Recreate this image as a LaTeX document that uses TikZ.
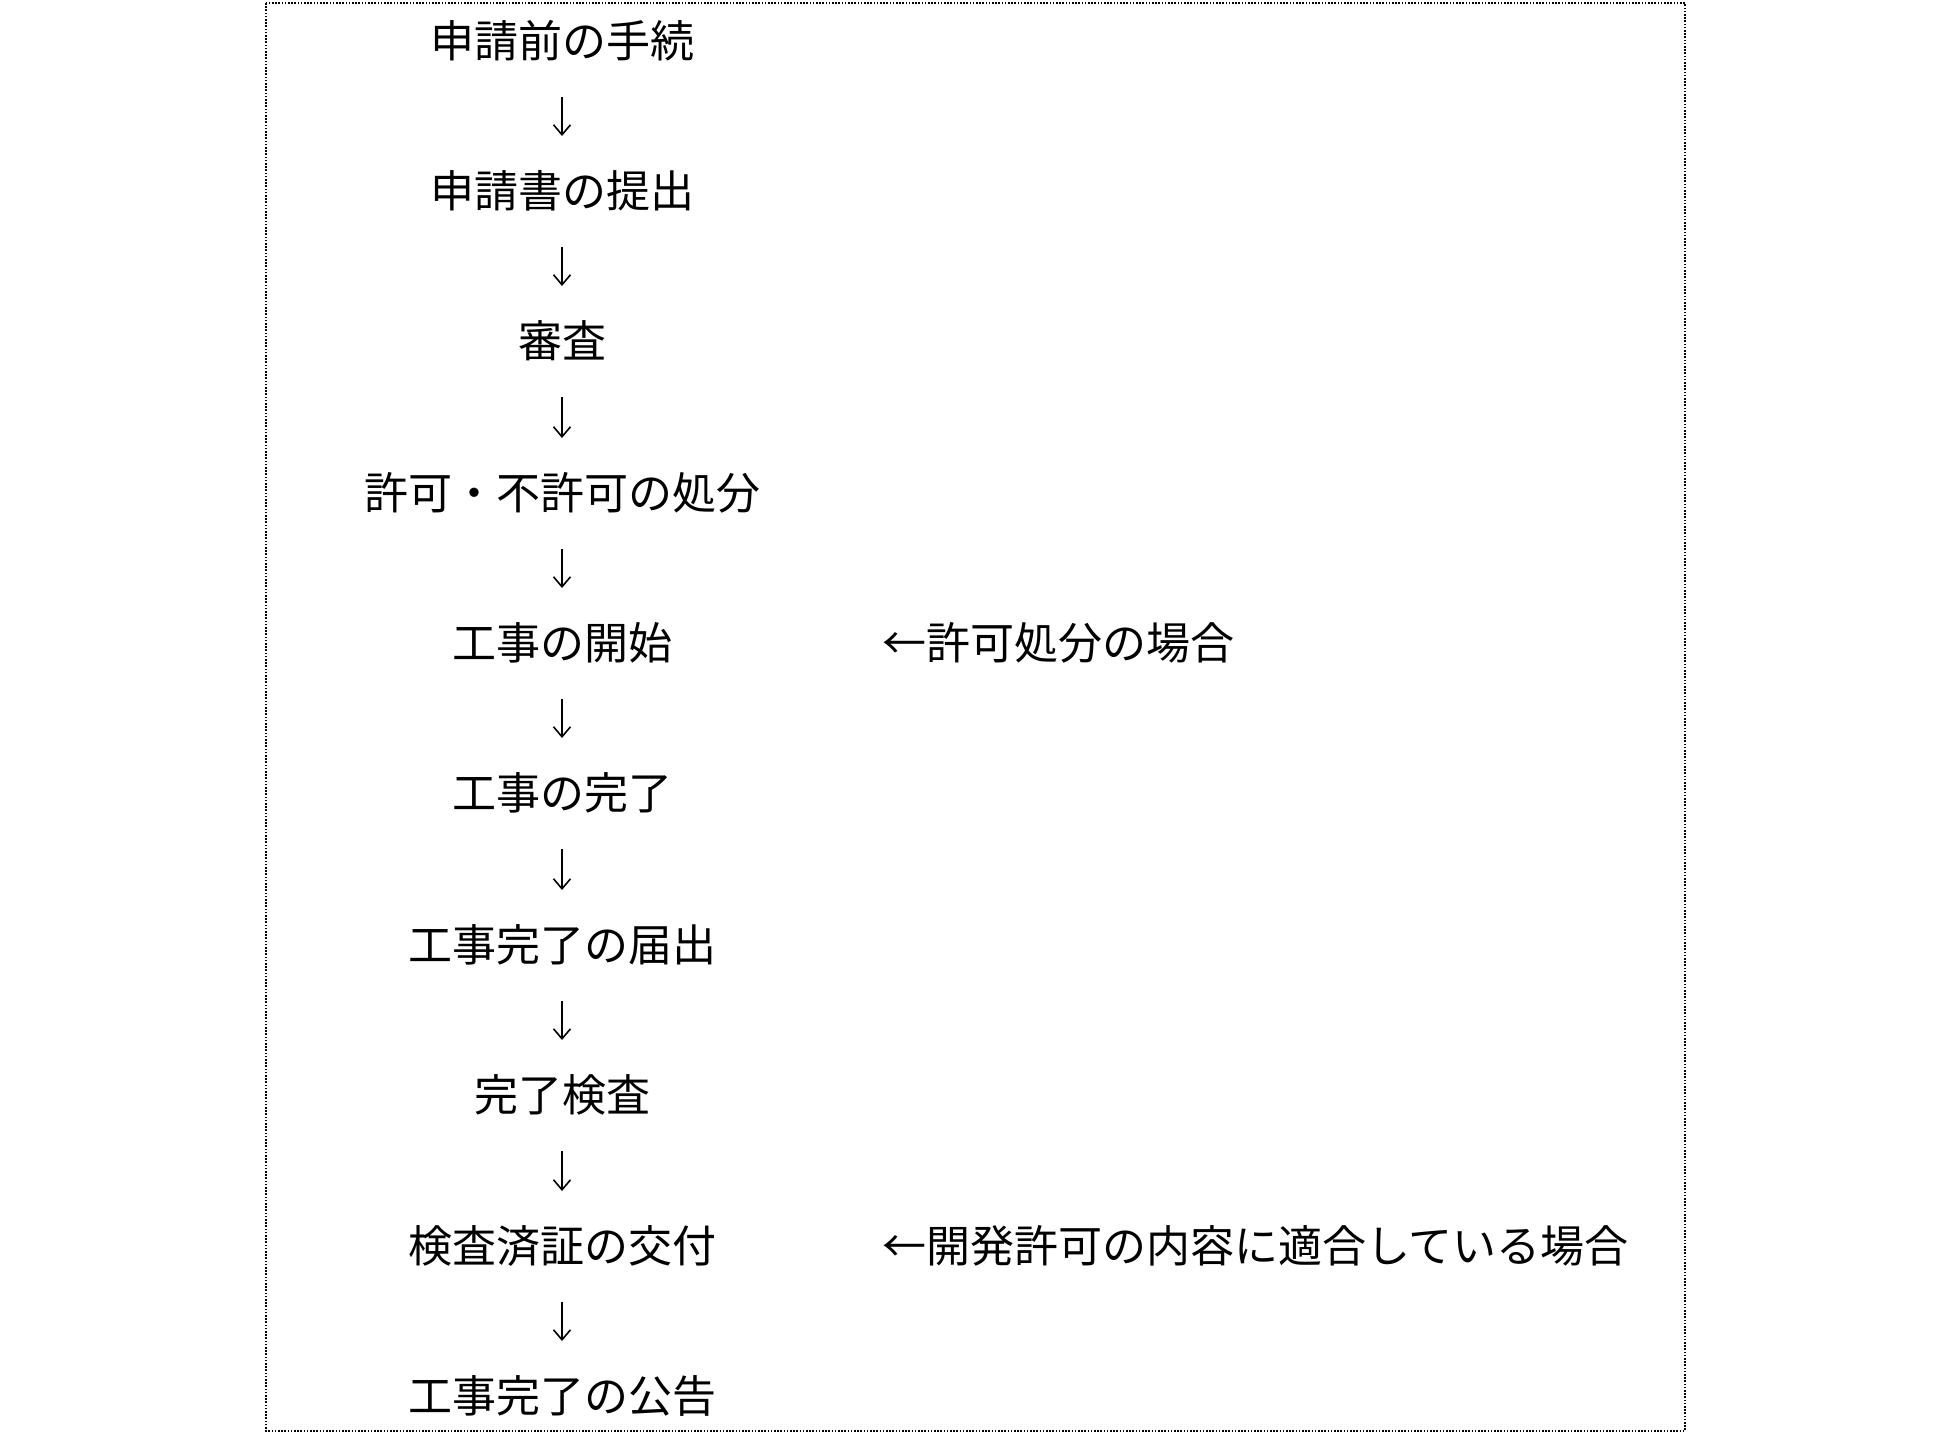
\documentclass[tikz,border=0pt]{standalone}
\usepackage{fontspec}
\newfontfamily\jp{Noto Sans CJK JP}
\usetikzlibrary{arrows.meta}
\tikzset{
  stepbox/.style={inner sep=0pt, font=\jp\fontsize{44}{50}\selectfont, anchor=center},
  note/.style={inner sep=0pt, font=\jp\fontsize{44}{50}\selectfont, anchor=west},
  flow/.style={line width=1.6pt, -{Straight Barb[length=10pt,width=17pt,line width=1.6pt]}, shorten <=56pt, shorten >=55pt},
  frame/.style={line width=1.6pt, dash pattern=on 1.6pt off 1.6pt}
}
\begin{document}
\begin{tikzpicture}[x=1pt,y=-1pt]
\useasboundingbox (0,0) rectangle (1949,1434);
\draw[frame] (266,3) rectangle (1685,1431);
\node[stepbox] (n1) at (562,41) {申請前の手続};
\node[stepbox] (n2) at (562,191) {申請書の提出};
\node[stepbox] (n3) at (562,341) {審査};
\node[stepbox] (n4) at (562,493) {許可・不許可の処分};
\node[stepbox] (n5) at (562,643) {工事の開始};
\node[stepbox] (n6) at (562,793) {工事の完了};
\node[stepbox] (n7) at (562,945) {工事完了の届出};
\node[stepbox] (n8) at (562,1095) {完了検査};
\node[stepbox] (n9) at (562,1246) {検査済証の交付};
\node[stepbox] (n10) at (562,1396) {工事完了の公告};
\node[note] (s1) at (882,643) {←許可処分の場合};
\node[note] (s2) at (882,1246) {←開発許可の内容に適合している場合};
\foreach \a/\b in {n1/n2,n2/n3,n3/n4,n4/n5,n5/n6,n6/n7,n7/n8,n8/n9,n9/n10}
  \draw[flow] (\a.center) -- (\b.center);
\end{tikzpicture}
\end{document}
